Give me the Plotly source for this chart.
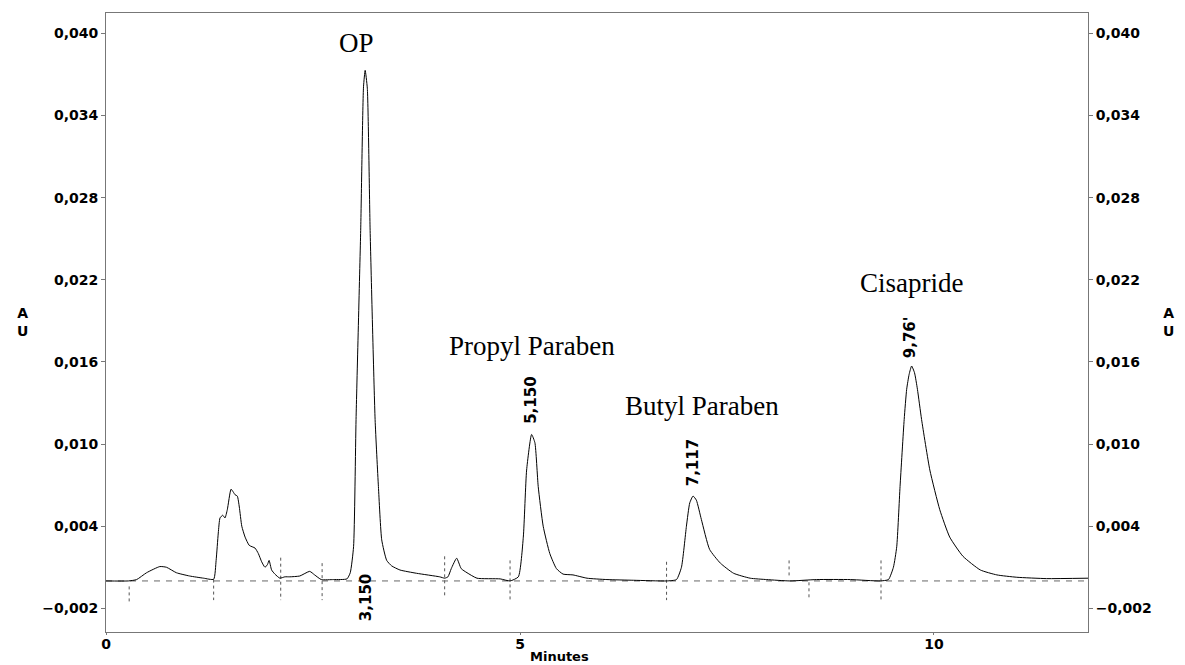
import plotly.graph_objects as go

# ---- chromatogram trace (time in minutes, absorbance in AU) ----
time_min = [
    0.00, 0.27, 0.37, 0.49, 0.65, 0.73, 0.85, 1.01, 1.18, 1.30,
    1.33, 1.356, 1.377, 1.41, 1.437, 1.465, 1.51, 1.537, 1.558, 1.586,
    1.61, 1.64, 1.68, 1.73, 1.80, 1.84, 1.88, 1.92, 1.95, 1.97,
    2.00, 2.04, 2.10, 2.16, 2.22, 2.34, 2.46, 2.52, 2.60, 2.75,
    2.91, 2.95, 2.99, 3.02, 3.076, 3.11, 3.13, 3.156, 3.19, 3.25,
    3.29, 3.33, 3.39, 3.45, 3.55, 3.75, 4.03, 4.09, 4.13, 4.17,
    4.235, 4.29, 4.36, 4.48, 4.76, 4.88, 4.98, 5.04, 5.08, 5.14,
    5.18, 5.22, 5.28, 5.36, 5.44, 5.52, 5.64, 5.81, 6.05, 6.37,
    6.77, 6.89, 6.95, 7.01, 7.05, 7.09, 7.13, 7.19, 7.29, 7.42,
    7.58, 7.78, 7.98, 8.26, 8.58, 8.99, 9.35, 9.45, 9.51, 9.55,
    9.59, 9.64, 9.67, 9.70, 9.73, 9.765, 9.80, 9.85, 9.95, 10.07,
    10.19, 10.35, 10.56, 10.76, 11.00, 11.36, 11.86,
]
absorbance_au = [
    0.0, 0.0, 0.0001, 0.0006, 0.00105, 0.001, 0.0006, 0.00036, 0.0002, 0.00012,
    0.0015, 0.0035, 0.0046, 0.0048, 0.0046, 0.0052, 0.0067, 0.0065, 0.0063, 0.0062,
    0.0054, 0.004, 0.0032, 0.0026, 0.0024, 0.002, 0.0014, 0.001, 0.0012, 0.0015,
    0.0008, 0.0005, 0.0002, 0.0003, 0.0003, 0.00036, 0.0007, 0.00044, 0.0001, 0.0001,
    0.00015, 0.0006, 0.0025, 0.0118, 0.0256, 0.0361, 0.0373, 0.036, 0.0256, 0.0118,
    0.0069, 0.003, 0.0015, 0.0011, 0.0008, 0.00056, 0.0003, 0.0002, 0.0003, 0.0009,
    0.00166, 0.0009, 0.0006, 0.0002, 0.00015, 0.0, 0.0003, 0.0032, 0.0081, 0.0107,
    0.0101, 0.0069, 0.004, 0.002, 0.0009, 0.0005, 0.00044, 0.0002, 0.0001, 0.00005,
    0.0, 0.0001, 0.001, 0.004, 0.0057, 0.0062, 0.0059, 0.0045, 0.0023, 0.0013,
    0.00056, 0.0002, 0.0001, 0.0, 0.0001, 0.0001, 0.0, 0.0001, 0.001, 0.0025,
    0.0069, 0.0118, 0.014, 0.0151, 0.0157, 0.0152, 0.014, 0.0118, 0.0081, 0.0052,
    0.0032, 0.0018, 0.0008, 0.00044, 0.00027, 0.00017, 0.0002,
]

# ---- integration event markers ----
marker_time = [0.28, 1.30, 2.11, 2.61, 4.09, 4.88, 6.77, 8.25, 8.49, 9.36]
marker_top = [-0.0004, 0.0001, 0.0017, 0.0013, 0.0018, 0.0015, 0.0014, 0.0015, -0.0001, 0.0015]
marker_bottom = [-0.0015, -0.0014, -0.0014, -0.0014, -0.0012, -0.0014, -0.0014, 0.0004, -0.0014, -0.0015]

# ---- baseline ----
baseline_time = [0.0, 11.86]
baseline_au = [0.0, 0.0]

# ---- retention-time labels ----
rt_labels = ["3,150", "5,150", "7,117", "9,76'"]
rt_time = [3.15, 5.14, 7.09, 9.71]
rt_au = [-0.0012, 0.0132, 0.0086, 0.0178]

# ---- compound names ----
compound_names = ["OP", "Propyl Paraben", "Butyl Paraben", "Cisapride"]
compound_time = [3.03, 5.14, 7.20, 9.73]
compound_au = [0.0393, 0.0172, 0.0128, 0.0218]

# ---- axes ----
x_ticks = [0, 5, 10]
y_ticks = [-0.002, 0.004, 0.010, 0.016, 0.022, 0.028, 0.034, 0.040]
x_range = [0, 11.86]
y_range = [-0.00373, 0.04149]

fig = go.Figure()

# vertical event markers
mx, my = [], []
for t, top, bot in zip(marker_time, marker_top, marker_bottom):
    mx += [t, t, None]
    my += [top, bot, None]
fig.add_trace(go.Scatter(x=mx, y=my, mode="lines",
                         line=dict(color="#555555", width=1, dash="3px,3px"),
                         hoverinfo="skip", showlegend=False))

# baseline
fig.add_trace(go.Scatter(x=baseline_time, y=baseline_au, mode="lines",
                         line=dict(color="#666666", width=1, dash="6px,6px"),
                         hoverinfo="skip", showlegend=False))

# chromatogram
fig.add_trace(go.Scatter(x=time_min, y=absorbance_au, mode="lines",
                         line=dict(color="black", width=1, shape="spline", smoothing=0.5),
                         showlegend=False))

# invisible trace for right axis
fig.add_trace(go.Scatter(x=[x_range[0]], y=[y_ticks[0]], mode="markers",
                         marker=dict(opacity=0), yaxis="y2",
                         hoverinfo="skip", showlegend=False))

bold = dict(family="DejaVu Sans", size=14, color="black", weight="bold")

for txt, t, v in zip(rt_labels, rt_time, rt_au):
    fig.add_annotation(x=t, y=v, text=txt, textangle=-90, showarrow=False,
                       font=dict(family="DejaVu Sans", size=15, color="black", weight="bold"))

for txt, t, v in zip(compound_names, compound_time, compound_au):
    fig.add_annotation(x=t, y=v, text=txt, showarrow=False,
                       font=dict(family="Liberation Serif", size=27, color="black"))

# AU titles
for px in (-0.0927, 1.0896):
    fig.add_annotation(xref="paper", yref="paper", x=px, y=0.501, yanchor="middle",
                       text="A<br>U", showarrow=False, align="center",
                       font=dict(family="DejaVu Sans", size=14, color="black", weight="bold"))

# x-axis title
fig.add_annotation(xref="paper", yref="paper", x=0.462, y=-0.0388,
                   xanchor="center", yanchor="middle",
                   text="Minutes", showarrow=False,
                   font=dict(family="DejaVu Sans", size=13, color="black", weight="bold"))

axis_common = dict(showgrid=False, zeroline=False, showline=True,
                   linecolor="#777777", linewidth=1, ticks="outside",
                   tickcolor="#777777", tickfont=bold, automargin=False)

# the page body adds an 8 px offset, so the figure is sized to fit the window
fig.update_layout(
    width=1177, height=657,
    margin=dict(l=98, r=97, t=5, b=33),
    paper_bgcolor="white", plot_bgcolor="white",
    separators=",.",
    xaxis=dict(range=x_range, tickvals=x_ticks, mirror=True, ticklen=2,
               ticklabelstandoff=-3, **axis_common),
    yaxis=dict(range=y_range, tickvals=y_ticks, tickformat=".3f", mirror=True,
               ticklen=4, **axis_common),
    yaxis2=dict(range=y_range, tickvals=y_ticks, tickformat=".3f",
                overlaying="y", side="right", ticklen=4, **axis_common),
)

fig.write_html("out.html")
